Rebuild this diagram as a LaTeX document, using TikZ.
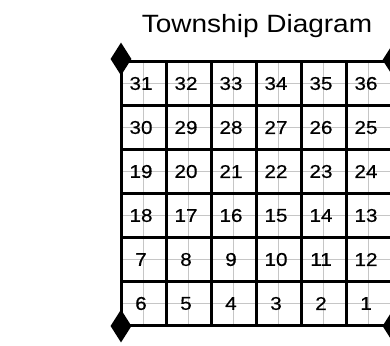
\documentclass[tikz,border=0pt]{standalone}
\usepackage{fontspec}
\setmainfont{Liberation Sans}
\newfontfamily\widesans[FakeStretch=1.12]{Liberation Sans}
\newfontfamily\numsans[FakeStretch=1.12,FakeBold=0.5]{Liberation Sans}
\usetikzlibrary{shapes.geometric}
\begin{document}
\begin{tikzpicture}[x=1pt,y=-1pt,
  thickline/.style={line width=3pt,black},
  thinline/.style={line width=1pt,gray!45},
  corner/.style={diamond,fill=black,inner sep=0pt,minimum width=21pt,minimum height=33pt},
  cellnum/.style={font=\numsans\fontsize{18.5}{20}\selectfont,inner sep=0pt,anchor=center},
  titletext/.style={font=\widesans\fontsize{25}{28}\selectfont,inner sep=0pt,anchor=base}]
\useasboundingbox (0,0) rectangle (390,345);
\begin{scope}
\clip (0,0) rectangle (390,345);
% thin grey mid lines
\foreach \i in {0,...,5} {
  \draw[thinline] ({121+45*\i+22.5},61) -- ({121+45*\i+22.5},325);
  \draw[thinline] (121,{61+44*\i+22}) -- (391,{61+44*\i+22});
}
% thick grid lines
\foreach \i in {0,...,6} {
  \draw[thickline] ({121+45*\i},61) -- ({121+45*\i},325);
  \draw[thickline] (121,{61+44*\i}) -- (391,{61+44*\i});
}
% corner diamonds
\node[corner] (tl) at (121,59) {};
\node[corner] (bl) at (121,326) {};
\node[corner] (tr) at (393,60) {};
\node[corner] (br) at (393,326) {};
\end{scope}
% numbers
\foreach \row/\nums in {0/{31,32,33,34,35,36},1/{30,29,28,27,26,25},2/{19,20,21,22,23,24},3/{18,17,16,15,14,13},4/{7,8,9,10,11,12},5/{6,5,4,3,2,1}} {
  \foreach \n [count=\c from 0] in \nums {
    \node[cellnum] (s\n) at ({121+45*\c+20},{61+44*\row+22.5}) {\n};
  }
}
\node[titletext] (title) at (257,33) {Township Diagram};
\end{tikzpicture}
\end{document}
